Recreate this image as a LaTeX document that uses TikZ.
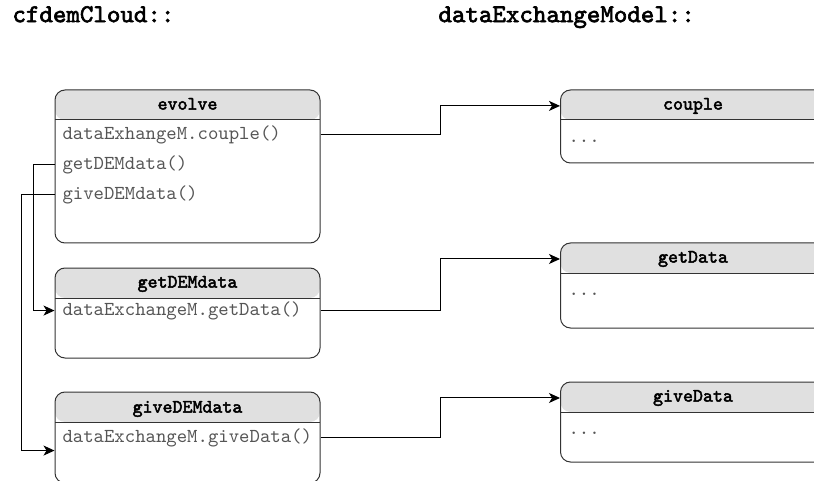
\documentclass[tikz,border=0pt]{standalone}
\usepackage{fontspec}
\setmonofont{lmmono10-regular.otf}[AutoFakeBold=2.5]
\usepackage{tikz}
\usetikzlibrary{arrows.meta,positioning}

\definecolor{headgray}{HTML}{E0E0E0}
\definecolor{boxline}{HTML}{333333}
\definecolor{calltext}{HTML}{555555}

\begin{document}
\begin{tikzpicture}[
        x=1pt, y=-1pt,
        every path/.style={line width=1pt},
        classbox/.style={draw=boxline, rounded corners=10pt, minimum width=265pt, inner sep=0pt,
            path picture={
                \fill[headgray] (path picture bounding box.north west) rectangle ([yshift=-30pt]path picture bounding box.north east);
                \draw[boxline] ([yshift=-30pt]path picture bounding box.north west) -- ([yshift=-30pt]path picture bounding box.north east);
            }},
        classname/.style={inner sep=0pt, font=\ttfamily\bfseries\fontsize{19}{22}\selectfont},
        calltext/.style={inner sep=0pt, anchor=mid west, text=calltext, font=\ttfamily\fontsize{19.8}{22}\selectfont},
        scopename/.style={inner sep=0pt, anchor=mid west, font=\ttfamily\bfseries\fontsize{25.7}{30}\selectfont},
        conn/.style={draw=black, -{Stealth[length=11pt,width=10pt,inset=3pt]}}
    ]
    \useasboundingbox (0,0) rectangle (814,481);

    % Scopes
    \node[scopename] (cloudscope) at (12,20) {cfdemCloud::};
    \node[scopename] (modelscope) at (438,20) {dataExchangeModel::};

    % cfdemCloud boxes
    \node[classbox, minimum height=153pt] (evolve) at (187.5,166.5) {};
    \node[classname, below=8pt of evolve.north] (evolvetitle) {evolve};
    \node[calltext] (couplecall) at (62,137) {dataExhangeM.couple()};
    \node[calltext] (getcall) at (62,167) {getDEMdata()};
    \node[calltext] (givecall) at (62,197) {giveDEMdata()};

    \node[classbox, minimum height=90pt] (getDEMdata) at (187.5,313) {};
    \node[classname, below=8pt of getDEMdata.north] (getDEMtitle) {getDEMdata};
    \node[calltext] (getDEMcall) at (62,313) {dataExchangeM.getData()};

    \node[classbox, minimum height=91pt] (giveDEMdata) at (187.5,437.5) {};
    \node[classname, below=9pt of giveDEMdata.north] (giveDEMtitle) {giveDEMdata};
    \node[calltext] (giveDEMcall) at (62,440) {dataExchangeM.giveData()};

    % dataExchangeModel boxes
    \node[classbox, minimum height=73pt] (couple) at (693,126.5) {};
    \node[classname, below=8pt of couple.north] (coupletitle) {couple};
    \node[calltext] (coupledots) at (568,140) {...};

    \node[classbox, minimum height=85pt] (getData) at (693,285.5) {};
    \node[classname, below=8pt of getData.north] (getDatatitle) {getData};
    \node[calltext] (getDatadots) at (568,293) {...};

    \node[classbox, minimum height=80pt] (giveData) at (693,422) {};
    \node[classname, below=8pt of giveData.north] (giveDatatitle) {giveData};
    \node[calltext] (giveDatadots) at (568,432) {...};

    % Edges
    \coordinate (midx) at (440,0);
    \coordinate (leftA) at (33,0);
    \coordinate (leftB) at (21,0);

    \draw[conn] (evolve.east |- couplecall) -| (midx |- coupletitle) -- (couple.west |- coupletitle);
    \draw[conn] (getDEMdata.east |- getDEMcall) -| (midx |- getDatatitle) -- (getData.west |- getDatatitle);
    \draw[conn] (giveDEMdata.east |- giveDEMcall) -| (midx |- giveDatatitle) -- (giveData.west |- giveDatatitle);

    \draw[conn] (evolve.west |- getcall) -- (leftA |- getcall) |- (getDEMdata.west |- getDEMcall);
    \draw[conn] (evolve.west |- givecall) -- (leftB |- givecall) |- ([yshift=-13pt]giveDEMdata.west |- giveDEMcall);

\end{tikzpicture}
\end{document}
